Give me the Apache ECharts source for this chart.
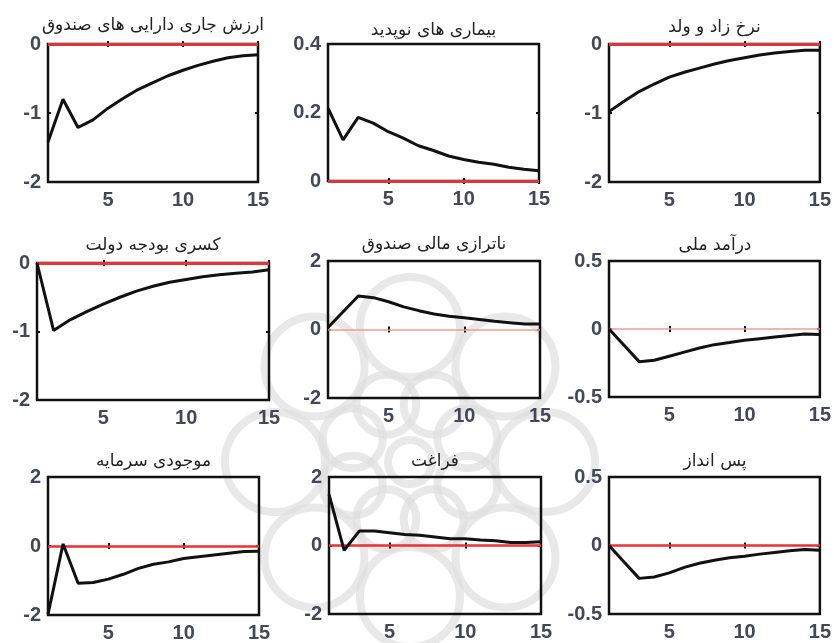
<!DOCTYPE html>
<html lang="fa">

<head>
    <meta charset="UTF-8">
    <title>توابع واکنش آنی</title>
    <style>
        html, body { margin: 0; padding: 0; background: #fff; }
        #chart { width: 834px; height: 643px; }
    </style>
</head>

<body>
    <div id="chart"></div>
    <script src="https://cdn.jsdelivr.net/npm/echarts@6.0.0/dist/echarts.min.js"></script>
    <script>
        // دوره ها (محور افقی)
        const periods = [1, 2, 3, 4, 5, 6, 7, 8, 9, 10, 11, 12, 13, 14, 15]
        const xTicks = [5, 10, 15]

        // عنوان هر نمودار
        const titles = [
            'ارزش جاری دارایی های صندوق', 'بیماری های نوپدید', 'نرخ زاد و ولد',
            'کسری بودجه دولت', 'ناترازی مالی صندوق', 'درآمد ملی',
            'موجودی سرمایه', 'فراغت', 'پس انداز'
        ]

        // مقادیر واکنش (خوانده شده از تصویر)
        const fundAssetValue = [-1.42, -0.80, -1.21, -1.10, -0.93, -0.79, -0.66, -0.56, -0.46, -0.38, -0.31, -0.25, -0.20, -0.17, -0.155]
        const newDiseases = [0.213, 0.12, 0.186, 0.169, 0.144, 0.125, 0.103, 0.089, 0.073, 0.063, 0.055, 0.049, 0.040, 0.034, 0.030]
        const birthRate = [-0.98, -0.83, -0.69, -0.58, -0.48, -0.41, -0.35, -0.29, -0.24, -0.20, -0.16, -0.13, -0.11, -0.09, -0.09]
        const budgetDeficit = [0, -0.985, -0.83, -0.71, -0.60, -0.50, -0.41, -0.34, -0.28, -0.24, -0.20, -0.17, -0.15, -0.13, -0.10]
        const fundImbalance = [0.06, 0.52, 0.98, 0.93, 0.81, 0.66, 0.55, 0.45, 0.39, 0.34, 0.29, 0.24, 0.20, 0.16, 0.16]
        const nationalIncome = [0, -0.12, -0.24, -0.23, -0.20, -0.17, -0.14, -0.115, -0.10, -0.083, -0.071, -0.059, -0.047, -0.037, -0.04]
        const capitalStock = [-1.98, 0.06, -1.08, -1.06, -0.96, -0.82, -0.65, -0.53, -0.46, -0.36, -0.31, -0.26, -0.21, -0.16, -0.15]
        const leisure = [1.49, -0.14, 0.42, 0.42, 0.37, 0.32, 0.30, 0.25, 0.20, 0.20, 0.16, 0.14, 0.09, 0.09, 0.11]
        const saving = [0, -0.12, -0.24, -0.23, -0.20, -0.16, -0.13, -0.107, -0.09, -0.078, -0.063, -0.051, -0.039, -0.029, -0.034]

        const responses = [fundAssetValue, newDiseases, birthRate, budgetDeficit, fundImbalance, nationalIncome, capitalStock, leisure, saving]

        // بازه محور عمودی: [min, max, interval]
        const yRanges = [
            [-2, 0, 1], [0, 0.4, 0.2], [-2, 0, 1],
            [-2, 0, 1], [-2, 2, 2], [-0.5, 0.5, 0.5],
            [-2, 2, 2], [-2, 2, 2], [-0.5, 0.5, 0.5]
        ]

        // جای هر نمودار: [left, top, right, bottom] به پیکسل
        const boxes = [
            [48, 44, 258, 182], [328, 44, 539, 181], [609, 44, 820, 182],
            [37, 263, 269, 400], [328, 261, 540, 398], [609, 261, 821, 397],
            [48, 477, 259, 615], [329, 477, 541, 614], [609, 477, 821, 614]
        ]
        // رنگ و ضخامت خط صفر
        const zeroStyle = [
            ['#d8383d', 3], ['#d8383d', 3], ['#d8383d', 3],
            ['#e8353a', 3], ['#f39a9a', 1.5], ['#f39a9a', 1.5],
            ['#ea3030', 2.5], ['#ea3030', 2.5], ['#ea3030', 2.5]
        ]
        const titleY = [26, 31, 28, 246, 245, 246, 462, 462, 462]

        const labelFont = { color: '#44465a', fontSize: 20, fontWeight: 'bold', fontFamily: 'Liberation Sans, Arial, sans-serif' }
        const tickStyle = { color: '#111', width: 2 }

        const grid = [], xAxis = [], yAxis = [], series = [], graphic = []

        // نقش کمرنگ پس زمینه (واترمارک)
        const wmX = 410, wmY = 462
        const wmStyle = { fill: 'none', stroke: '#dedede', lineWidth: 8, opacity: 0.7 }
        graphic.push({ type: 'circle', z: -10, silent: true, shape: { cx: wmX, cy: wmY, r: 22 }, style: wmStyle })
        for (let k = 0; k < 8; k++) {
            const a1 = (22.5 + 45 * k) * Math.PI / 180
            const a2 = (45 * k) * Math.PI / 180
            graphic.push({ type: 'circle', z: -10, silent: true, shape: { cx: wmX + 62 * Math.cos(a1), cy: wmY + 62 * Math.sin(a1), r: 30 }, style: wmStyle })
            graphic.push({ type: 'circle', z: -10, silent: true, shape: { cx: wmX + 135 * Math.cos(a2), cy: wmY + 135 * Math.sin(a2), r: 50 }, style: wmStyle })
        }

        boxes.forEach(([l, t, r, b], i) => {
            grid.push({
                left: l, top: t, width: r - l, height: b - t,
                show: true, borderColor: '#111', borderWidth: 2.5, backgroundColor: 'transparent'
            })
            // محور پایین با برچسب و محور بالا فقط برای تیک ها
            xAxis.push({
                gridIndex: i, type: 'value', min: 1, max: 15,
                axisLine: { show: false }, splitLine: { show: false },
                axisTick: { show: true, inside: true, length: 3, customValues: xTicks, lineStyle: tickStyle },
                axisLabel: { ...labelFont, margin: 8, customValues: xTicks }
            })
            xAxis.push({
                gridIndex: i, type: 'value', min: 1, max: 15, position: 'top',
                axisLine: { show: false }, splitLine: { show: false }, axisLabel: { show: false },
                axisTick: { show: true, inside: true, length: 3, customValues: xTicks, lineStyle: tickStyle }
            })
            const [ymin, ymax, step] = yRanges[i]
            yAxis.push({
                gridIndex: i, type: 'value', min: ymin, max: ymax, interval: step,
                axisLine: { show: false }, splitLine: { show: false },
                axisTick: { show: true, inside: true, length: 3, lineStyle: tickStyle },
                axisLabel: { ...labelFont, margin: 7 }
            })
            yAxis.push({
                gridIndex: i, type: 'value', min: ymin, max: ymax, interval: step, position: 'right',
                axisLine: { show: false }, splitLine: { show: false }, axisLabel: { show: false },
                axisTick: { show: true, inside: true, length: 3, lineStyle: tickStyle }
            })
            series.push({
                type: 'line',
                xAxisIndex: 2 * i, yAxisIndex: 2 * i,
                data: periods.map((p, k) => [p, responses[i][k]]),
                showSymbol: false,
                lineStyle: { color: '#111', width: 3 },
                z: 3,
                markLine: {
                    silent: true, symbol: ['none', 'none'], label: { show: false },
                    lineStyle: { color: zeroStyle[i][0], width: zeroStyle[i][1], type: 'solid' },
                    data: [{ yAxis: 0 }],
                    z: 2
                }
            })
            graphic.push({
                type: 'text', x: (l + r) / 2, y: titleY[i], z: 10,
                style: {
                    text: titles[i], fill: '#222', fontSize: 17,
                    fontFamily: 'DejaVu Sans, sans-serif',
                    textAlign: 'center', textVerticalAlign: 'middle'
                }
            })
        })

        const myChart = echarts.init(document.getElementById('chart'))
        myChart.setOption({
            animation: false,
            grid, xAxis, yAxis, series, graphic
        })
    </script>
</body>

</html>
